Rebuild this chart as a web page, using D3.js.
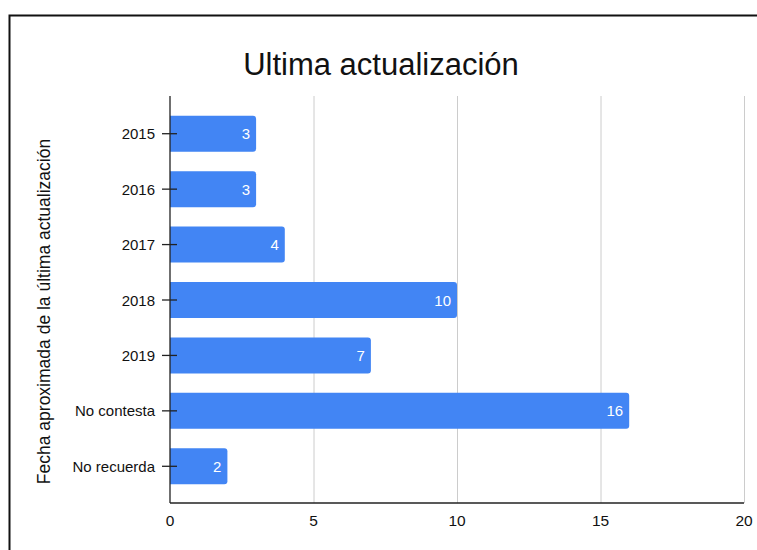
<!DOCTYPE html>
<html><head><meta charset="utf-8">
<script src="https://cdn.jsdelivr.net/npm/d3@7"></script>
<style>body{margin:0;background:#fff}svg{display:block}text{font-family:"Liberation Sans",Arial,sans-serif}</style>
</head><body>
<script>
const categories = ["2015","2016","2017","2018","2019","No contesta","No recuerda"];
const values = [3,3,4,10,7,16,2];
const xTicks = [0,5,10,15,20];
const title = "Ultima actualización";
const yTitle = "Fecha aproximada de la última actualización";

const W=757,H=550;
const svg=d3.select("body").append("svg").attr("width",W).attr("height",H);
// frame
svg.append("path").attr("d",`M9.5,${H}V15.5H${W}`).attr("fill","none").attr("stroke","#111").attr("stroke-width",2);

const x=d3.scaleLinear().domain([0,20]).range([170,744]);
const y=d3.scaleBand().domain(categories).range([106,494]).paddingInner(0.35).paddingOuter(0.175);
const plotTop=96,plotBottom=503;

// gridlines
svg.append("g").selectAll("line").data(xTicks.filter(d=>d>0)).join("line")
  .attr("x1",d=>x(d)+0.5).attr("x2",d=>x(d)+0.5).attr("y1",plotTop).attr("y2",plotBottom)
  .attr("stroke","#ccc").attr("stroke-width",1);

// bars
const r=3;
svg.append("g").selectAll("path").data(values).join("path")
  .attr("fill","#4285F4")
  .attr("d",(d,i)=>{const x0=x(0),x1=x(d),y0=y(categories[i]),h=y.bandwidth();
    return `M${x0},${y0}H${x1-r}Q${x1},${y0} ${x1},${y0+r}V${y0+h-r}Q${x1},${y0+h} ${x1-r},${y0+h}H${x0}Z`;});

// value labels
svg.append("g").selectAll("text").data(values).join("text")
  .attr("x",d=>x(d)-6).attr("y",(d,i)=>y(categories[i])+y.bandwidth()/2+5.5)
  .attr("text-anchor","end").attr("fill","#fff").attr("font-size",15).text(d=>d);

// axes
svg.append("line").attr("x1",x(0)).attr("x2",x(0)).attr("y1",plotTop).attr("y2",plotBottom).attr("stroke","#222").attr("stroke-width",1.3);
svg.append("line").attr("x1",x(0)).attr("x2",x(20)).attr("y1",plotBottom).attr("y2",plotBottom).attr("stroke","#222").attr("stroke-width",1.5);

// y ticks and labels
const yg=svg.append("g");
yg.selectAll("line").data(categories).join("line")
  .attr("x1",162).attr("x2",177).attr("y1",d=>y(d)+y.bandwidth()/2).attr("y2",d=>y(d)+y.bandwidth()/2)
  .attr("stroke","#222").attr("stroke-width",1.3);
yg.selectAll("text").data(categories).join("text")
  .attr("x",155).attr("y",d=>y(d)+y.bandwidth()/2+5.5).attr("text-anchor","end")
  .attr("font-size",15).attr("fill","#111").text(d=>d);

// x tick labels
svg.append("g").selectAll("text").data(xTicks).join("text")
  .attr("x",d=>x(d)).attr("y",526).attr("text-anchor","middle").attr("font-size",15.5).attr("fill","#111").text(d=>d);

// title
svg.append("text").attr("x",381).attr("y",75).attr("text-anchor","middle").attr("font-size",31).attr("fill","#111").text(title);

// y title
svg.append("text").attr("transform","translate(49.5,311.5) rotate(-90)").attr("text-anchor","middle")
  .attr("font-size",17.5).attr("fill","#111").text(yTitle);
</script>
</body></html>
